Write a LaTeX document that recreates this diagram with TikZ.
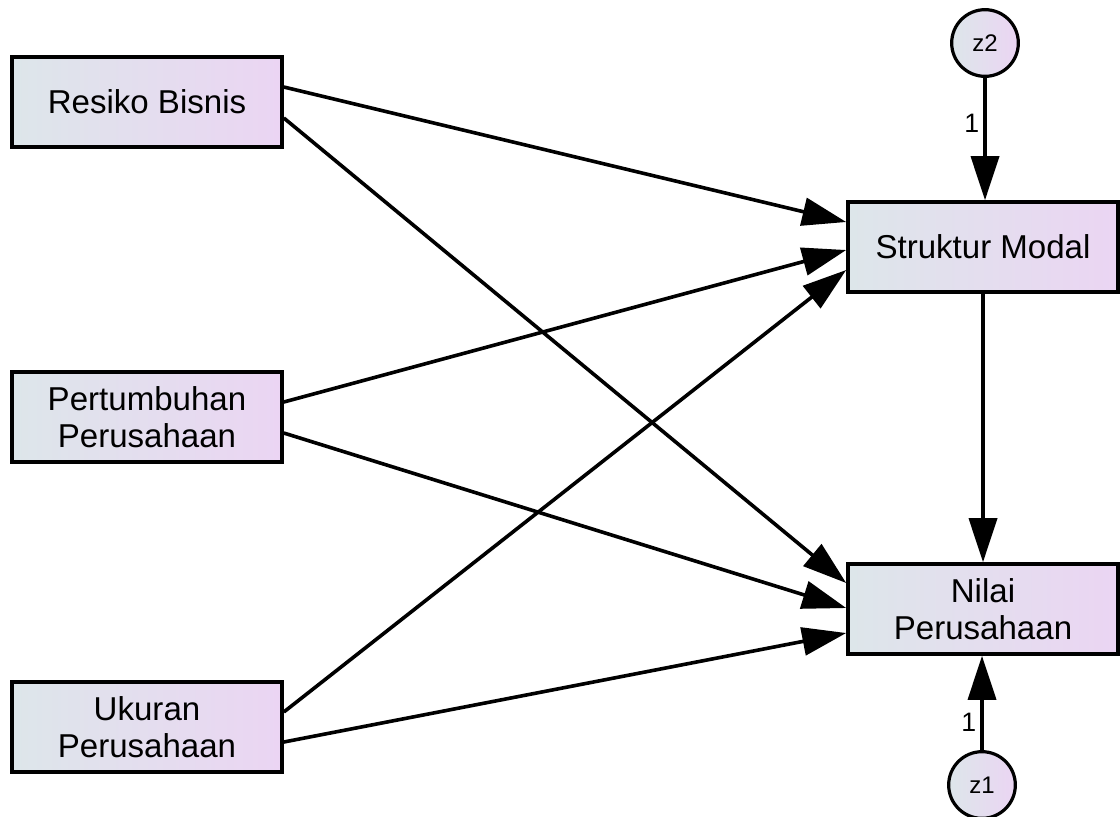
\documentclass[tikz,border=0pt]{standalone}
\usepackage{fontspec}
\setmainfont{Liberation Sans}
\usetikzlibrary{arrows.meta,calc}
\definecolor{boxleft}{RGB}{221,230,234}
\definecolor{boxright}{RGB}{235,213,243}

\begin{document}
\begin{tikzpicture}[x=0.375pt,y=-0.375pt,
	varbox/.style={draw, line width=1.6pt, left color=boxleft, right color=boxright,
		minimum width=101pt, minimum height=33.5pt, inner sep=0pt, align=center,
		font=\fontsize{12.4}{14}\selectfont},
	errvar/.style={circle, draw, line width=1.2pt, left color=boxleft, right color=boxright,
		minimum size=25pt, inner sep=0pt, font=\fontsize{9}{10}\selectfont},
	path/.style={line width=1.35pt, -{Triangle[length=16.5pt,width=10.5pt]}},
	lab/.style={font=\fontsize{10}{11}\selectfont, inner sep=1.5pt}]
	\useasboundingbox (0,0) rectangle (1120,816);
	\draw (147,102) node[varbox](rb) {Resiko Bisnis};
	\draw (147,417) node[varbox](pp) {Pertumbuhan\\Perusahaan};
	\draw (147,727) node[varbox](up) {Ukuran\\Perusahaan};
	\draw (983,247) node[varbox](sm) {Struktur Modal};
	\draw (983,609) node[varbox](np) {Nilai\\Perusahaan};
	\draw (985,43) node[errvar](z2) {z2};
	\draw (982,785) node[errvar](z1) {z1};
	\draw[path] ($(rb.east)+(0,-15)$) -- ($(sm.west)+(0,-25)$);
	\draw[path] ($(rb.east)+(0,16)$) -- ($(np.west)+(0,-26)$);
	\draw[path] ($(pp.east)+(0,-15)$) -- ($(sm.west)+(0,3)$);
	\draw[path] ($(pp.east)+(0,16)$) -- ($(np.west)+(0,-1)$);
	\draw[path] ($(up.east)+(0,-15)$) -- ($(sm.west)+(0,23)$);
	\draw[path] ($(up.east)+(0,15)$) -- ($(np.west)+(0,24)$);
	\draw[path] (sm) -- (np);
	\draw[path] (z2) -- node[lab, pos=0.37, left] {1} (z2 |- sm.north);
	\draw[path] (z1) -- node[lab, pos=0.29, left] {1} (z1 |- np.south);
\end{tikzpicture}
\end{document}
